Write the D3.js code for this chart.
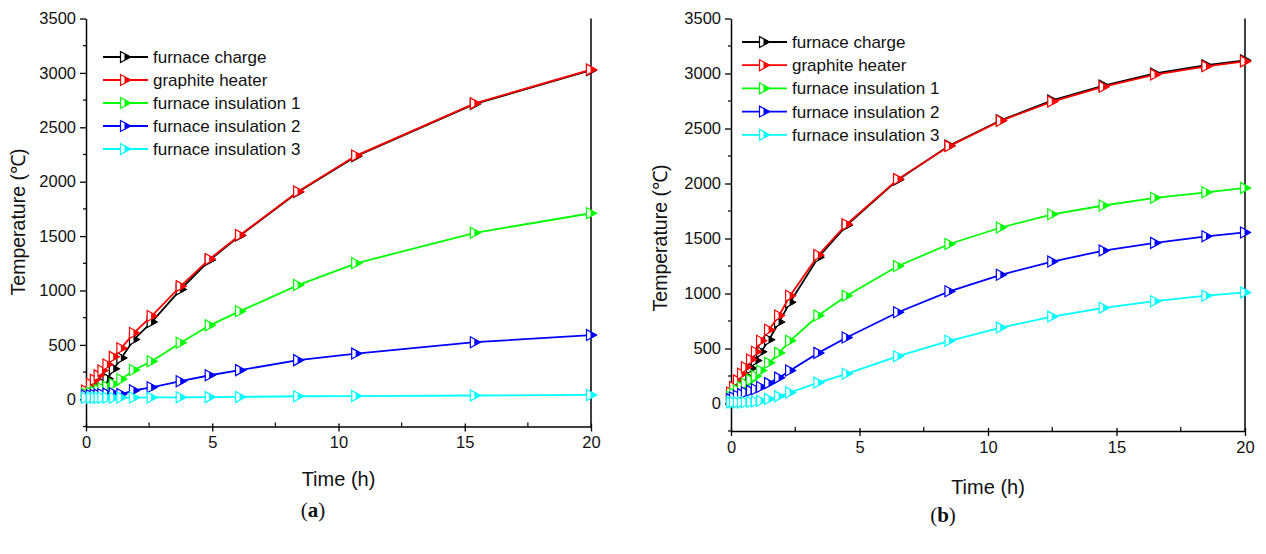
<!DOCTYPE html>
<html>
<head>
<meta charset="utf-8">
<script src="https://cdn.jsdelivr.net/npm/d3@7"></script>
<style>
body{margin:0;background:#fff;}
text{font-family:"Liberation Sans",Arial,sans-serif;fill:#111;}
</style>
</head>
<body>
<svg id="chart" width="1266" height="554"></svg>
<script>
// series names / colours shared by both panels
var seriesNames=['furnace charge','graphite heater','furnace insulation 1','furnace insulation 2','furnace insulation 3'];
var seriesColors=['#000000','#ff0000','#00ff00','#0000ff','#00ffff'];

// panel (a)
var timeA=[0,0.2,0.35,0.5,0.65,0.85,1.1,1.4,1.9,2.6,3.75,4.9,6.1,8.4,10.7,15.4,20];
var chargeA=[20,50,80,110,150,190,280,380,550,710,1010,1280,1505,1905,2235,2715,3025];
var heaterA=[80,140,180,220,265,320,390,470,610,765,1040,1290,1510,1910,2240,2720,3030];
var ins1A=[50,60,70,85,100,115,140,185,270,350,520,680,810,1050,1250,1530,1710];
var ins2A=[35,38,40,43,47,52,55,48,82,110,166,221,268,360,420,525,590];
var ins3A=[15,15,15,15,15,15,15,16,16,17,18,20,22,28,30,35,40];

// panel (b)
var timeB=[0,0.12,0.27,0.43,0.58,0.78,0.97,1.17,1.48,1.87,2.3,3.4,4.5,6.5,8.5,10.5,12.5,14.5,16.5,18.5,20];
var chargeB=[30,80,130,190,250,320,390,470,580,740,920,1330,1620,2035,2345,2575,2755,2890,3000,3075,3120];
var heaterB=[100,150,210,270,330,400,470,570,670,800,980,1350,1630,2040,2340,2570,2745,2880,2990,3065,3110];
var ins1B=[60,90,120,150,180,215,250,300,370,460,570,800,980,1250,1450,1600,1720,1800,1870,1920,1960];
var ins2B=[40,55,70,85,100,115,130,150,185,235,300,460,600,830,1020,1170,1290,1390,1460,1520,1555];
var ins3B=[10,10,10,10,12,14,18,25,40,65,100,190,270,430,570,690,790,870,930,980,1010];

var xTicks=[0,5,10,15,20];
var xMinor=[2.5,7.5,12.5,17.5];
var yTicks=[0,500,1000,1500,2000,2500,3000,3500];
var yMinor=[-250,250,750,1250,1750,2250,2750,3250];

var svg=d3.select('#chart');

function drawPanel(p){
    var x=d3.scaleLinear().domain([0,20]).range([p.left,p.right]);
    var y=d3.scaleLinear().domain([-250,3500]).range([p.bottom,p.top]);
    var g=svg.append('g');

    // minor ticks
    g.selectAll('.xm').data(xMinor).enter().append('line')
    .attr('x1',d=>x(d)).attr('x2',d=>x(d))
    .attr('y1',p.bottom).attr('y2',p.bottom-4)
    .attr('stroke','#000').attr('stroke-width',1.2);
    g.selectAll('.ym').data(yMinor).enter().append('line')
    .attr('x1',p.left-3).attr('x2',p.left)
    .attr('y1',d=>y(d)).attr('y2',d=>y(d))
    .attr('stroke','#000').attr('stroke-width',1.2);

    var xAxis=d3.axisBottom(x).tickValues(xTicks).tickFormat(d3.format('d')).tickSizeInner(5).tickSizeOuter(0).tickPadding(5);
    var yAxis=d3.axisLeft(y).tickValues(yTicks).tickFormat(d3.format('d')).tickSizeInner(6).tickSizeOuter(0).tickPadding(4);

    var gx=g.append('g').attr('transform','translate(0,'+p.bottom+')').call(xAxis);
    var gy=g.append('g').attr('transform','translate('+p.left+',0)').call(yAxis);
    [gx,gy].forEach(function(a){
        a.select('.domain').attr('stroke','#000').attr('stroke-width',1.5);
        a.selectAll('.tick line').attr('stroke','#000').attr('stroke-width',1.3);
        a.selectAll('.tick text').style('font-size','16.5px').style('font-family','"Liberation Sans",Arial,sans-serif').attr('fill','#111');
    });
    gx.selectAll('.tick line').attr('y1',-3);

    // right frame line
    g.append('line')
    .attr('x1',p.right).attr('x2',p.right)
    .attr('y1',p.top).attr('y2',p.bottom)
    .attr('stroke','#000').attr('stroke-width',1.5);

    var line=d3.line().x(d=>x(d[0])).y(d=>y(d[1]));

    p.series.forEach(function(vals,i){
        var pts=p.time.map((t,k)=>[t,vals[k]]);
        var col=seriesColors[i];
        g.append('path')
        .datum(pts)
        .attr('d',line)
        .attr('fill','none')
        .attr('stroke',col)
        .attr('stroke-width',1.8);
        var m=g.selectAll('.mk'+i).data(pts).enter().append('g')
        .attr('transform',d=>'translate('+x(d[0])+','+y(d[1])+')');
        addMarker(m,col);
    });

    // legend
    var lg=g.append('g');
    seriesNames.forEach(function(name,i){
        var yy=p.legY+i*p.legStep;
        lg.append('line')
        .attr('x1',p.legX).attr('x2',p.legX+45)
        .attr('y1',yy).attr('y2',yy)
        .attr('stroke',seriesColors[i]).attr('stroke-width',1.8);
        var m=lg.append('g').attr('transform','translate('+(p.legX+22)+','+yy+')');
        addMarker(m,seriesColors[i]);
        lg.append('text')
        .attr('x',p.legX+50).attr('y',yy)
        .attr('dy','0.35em')
        .style('font-size','17px')
        .text(name);
    });

    // axis titles
    g.append('text')
    .attr('x',(p.left+p.right)/2).attr('y',p.xTitleY)
    .attr('text-anchor','middle').attr('dy','0.35em')
    .style('font-size','20px')
    .text('Time (h)');
    g.append('text')
    .attr('transform','translate('+p.yTitleX+','+p.yTitleY+') rotate(-90)')
    .attr('text-anchor','middle').attr('dy','0.35em')
    .style('font-size','19.5px')
    .text('Temperature (\u2103)');

    var cap=g.append('text')
    .attr('x',p.capX).attr('y',p.capY)
    .attr('text-anchor','middle').attr('dy','0.35em')
    .style('font-family','"Liberation Serif","DejaVu Serif",serif')
    .style('font-size','21px');
    cap.append('tspan').text('(');
    cap.append('tspan').style('font-weight','bold').text(p.cap);
    cap.append('tspan').text(')');
}

function addMarker(sel,col){
    sel.append('path')
    .attr('d','M-4.5,-5.5L5.5,0L-4.5,5.5Z')
    .attr('fill','#fff')
    .attr('stroke',col)
    .attr('stroke-width',1.2);
    sel.append('path')
    .attr('d','M0,-3L5.5,0L0,3Z')
    .attr('fill',col)
    .attr('stroke',col)
    .attr('stroke-width',1);
}

drawPanel({
    left:86,right:591,top:18.5,bottom:426.5,
    time:timeA,series:[chargeA,heaterA,ins1A,ins2A,ins3A],
    legX:103,legY:57,legStep:23,
    xTitleY:479,yTitleX:18,yTitleY:222,
    capX:313,capY:510,cap:'a'
});
drawPanel({
    left:731,right:1245,top:18.5,bottom:431,
    time:timeB,series:[chargeB,heaterB,ins1B,ins2B,ins3B],
    legX:742,legY:42,legStep:23.2,
    xTitleY:487,yTitleX:660,yTitleY:238,
    capX:943,capY:515,cap:'b'
});
</script>
</body>
</html>
